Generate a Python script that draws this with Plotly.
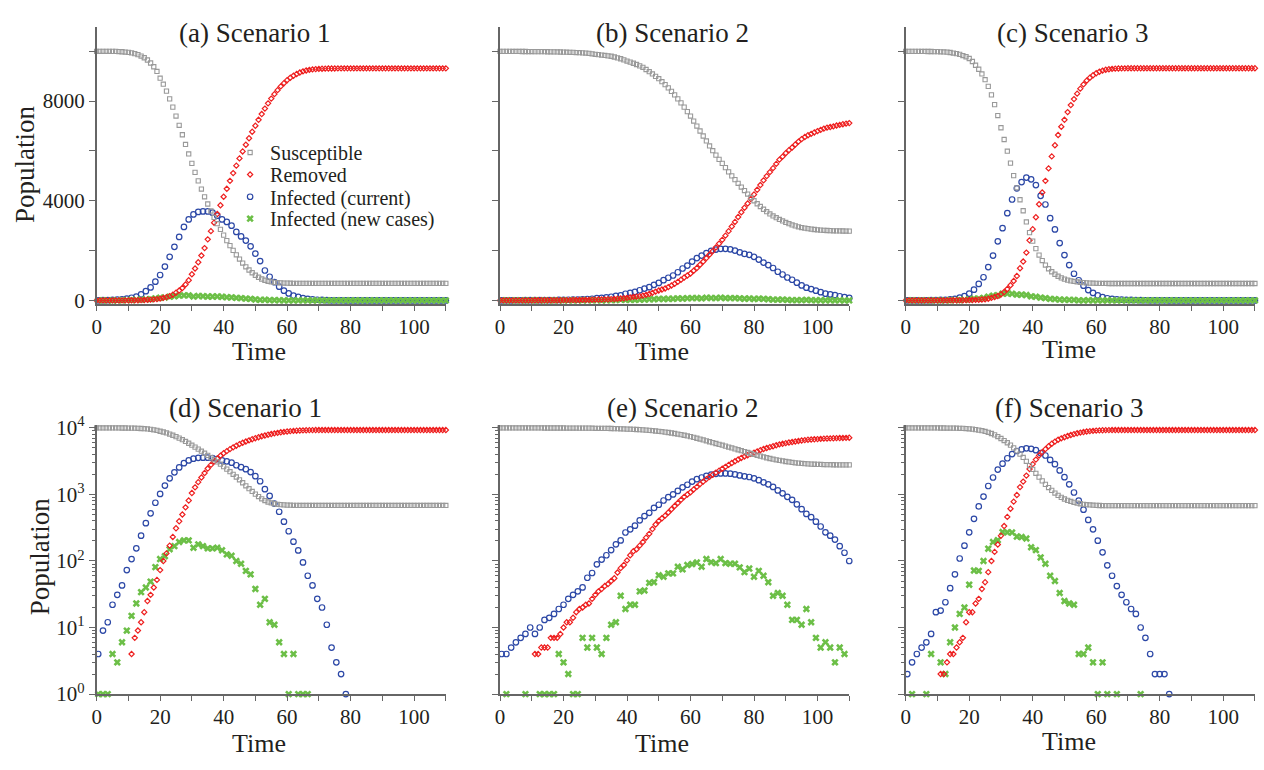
import plotly.graph_objects as go

# ---------------- data ----------------
t_day = list(range(111))                      # Susceptible / Removed sampled every time unit
t_sub = [0.5 + 1.5 * k for k in range(74)]    # Infected series sampled every 1.5 time units

# Scenario 1
S1 = [10000, 10000, 10000, 10000, 10000, 9998, 9995, 9990, 9982, 9970, 9955,
      9935, 9905, 9865, 9810, 9740, 9650, 9530, 9380, 9190, 8920,
      8680, 8400, 8090, 7760, 7400, 7030, 6650, 6260, 5880, 5500,
      5140, 4800, 4470, 4160, 3870, 3590, 3330, 3080, 2850, 2620,
      2400, 2200, 2010, 1830, 1660, 1500, 1350, 1220, 1110, 1010,
      930, 860, 810, 770, 745, 725, 712, 703, 697, 692,
      689, 687, 685] + [684] * 47
R1 = [0] * 11 + [4, 7, 9, 12, 17, 25, 31, 40, 52, 73,
                 100, 130, 170, 230, 310, 395, 500, 640, 810, 1050,
                 1280, 1530, 1800, 2100, 2450, 2780, 3120, 3470, 3820, 4160,
                 4480, 4800, 5110, 5410, 5700, 5980, 6250, 6510, 6770, 7010,
                 7250, 7480, 7700, 7910, 8100, 8280, 8440, 8590, 8720, 8840,
                 8940, 9020, 9090, 9150, 9195, 9230, 9255, 9273, 9285, 9293,
                 9298, 9303, 9307, 9310, 9312, 9314, 9315] + [9316] * 33
I1 = [4, 9, 12, 22, 31, 43, 73, 107, 155, 240,
      370, 520, 750, 1020, 1360, 1750, 2150, 2550, 2950, 3250,
      3450, 3550, 3570, 3570, 3520, 3400, 3250, 3150, 3000, 2750,
      2570, 2400, 2170, 1880, 1580, 1200, 950, 730, 550, 390,
      280, 195, 144, 95, 60, 43, 27, 20, 11, 5,
      3, 2, 1] + [0] * 21
N1 = [1, 1, 1, 4, 3, 6, 9, 15, 23, 34,
      40, 49, 81, 107, 118, 150, 167, 193, 204, 204,
      158, 178, 167, 155, 155, 158, 145, 126, 120, 100,
      91, 71, 63, 38, 22, 27, 12, 11, 6, 4,
      1, 4, 1, 1, 1] + [0] * 29

# Scenario 2
S2 = [9996, 9996, 9995, 9995, 9994, 9994, 9993, 9992, 9991, 9990,
      9989, 9988, 9987, 9985, 9983, 9981, 9979, 9977, 9974, 9971,
      9968, 9964, 9960, 9955, 9950, 9944, 9937, 9929, 9915, 9899,
      9880, 9866, 9850, 9834, 9818, 9800, 9770, 9735, 9700, 9655,
      9608, 9565, 9520, 9470, 9415, 9357, 9270, 9180, 9090, 8995,
      8900, 8780, 8660, 8530, 8390, 8250, 8090, 7930, 7760, 7580,
      7400, 7200, 7000, 6800, 6600, 6400, 6200, 6010, 5830, 5660,
      5500, 5330, 5160, 5000, 4850, 4700, 4550, 4410, 4270, 4130,
      4000, 3880, 3770, 3660, 3560, 3470, 3390, 3320, 3250, 3190,
      3130, 3080, 3030, 2990, 2955, 2925, 2900, 2880, 2862, 2847,
      2834, 2823, 2814, 2806, 2800, 2795, 2791, 2788, 2786, 2784, 2783]
R2 = [0] * 11 + [4, 4, 5, 5, 5, 7, 7, 7, 8, 10,
                 12, 12, 14, 17, 19, 20, 22, 23, 27, 31,
                 35, 38, 42, 45, 50, 55, 67, 78, 87, 102,
                 122, 140, 150, 170, 193, 224, 256, 302, 354, 400,
                 438, 480, 535, 600, 670, 745, 830, 920, 1000, 1080,
                 1190, 1300, 1430, 1560, 1700, 1840, 1980, 2130, 2280, 2430,
                 2600, 2780, 2965, 3150, 3350, 3540, 3720, 3890, 4070, 4250,
                 4440, 4630, 4820, 4990, 5150, 5310, 5480, 5650, 5770, 5910,
                 6030, 6140, 6260, 6375, 6475, 6560, 6630, 6683, 6743, 6796,
                 6847, 6896, 6934, 6960, 6985, 7019, 7045, 7074, 7096, 7117]
I2 = [4, 4, 5, 6, 7, 8, 10, 8, 10, 13,
      14, 16, 19, 22, 27, 31, 35, 40, 56, 66,
      89, 105, 122, 146, 178, 204, 268, 299, 339, 408,
      473, 530, 627, 700, 812, 910, 1000, 1130, 1280, 1400,
      1560, 1700, 1800, 1900, 1990, 2040, 2070, 2070, 2050, 2000,
      1930, 1870, 1830, 1750, 1640, 1520, 1420, 1300, 1150, 1040,
      920, 830, 710, 600, 510, 455, 390, 330, 270, 240,
      210, 167, 133, 100]
N2 = [0, 1, 0, 0, 0, 1, 0, 0, 1, 1,
      1, 1, 4, 3, 2, 1, 1, 7, 5, 7,
      5, 4, 7, 11, 12, 30, 19, 22, 22, 35,
      36, 47, 48, 61, 58, 65, 65, 82, 75, 87,
      90, 95, 82, 107, 96, 93, 107, 93, 91, 91,
      80, 68, 77, 58, 71, 60, 48, 30, 33, 30,
      22, 13, 13, 11, 19, 12, 7, 5, 6, 5,
      3, 5, 4, 0]

# Scenario 3
S3 = [9998, 9997, 9997, 9996, 9995, 9994, 9993, 9992, 9991, 9988, 9985,
      9980, 9974, 9965, 9952, 9930, 9905, 9875, 9830, 9780, 9710,
      9590, 9440, 9280, 9090, 8860, 8590, 8250, 7860, 7420, 6930,
      6460, 5990, 5510, 5010, 4520, 4040, 3600, 3150, 2720, 2380,
      2080, 1820, 1600, 1420, 1270, 1150, 1050, 970, 905, 855,
      815, 785, 760, 740, 725, 712, 702, 695, 690, 686,
      683, 681, 680] + [679] * 47
R3 = [0] * 11 + [2, 2, 3, 4, 4, 5, 6, 7, 12, 17,
                 17, 23, 27, 38, 48, 68, 100, 137, 177, 240,
                 335, 460, 610, 780, 980, 1290, 1560, 1920, 2410, 2860,
                 3340, 3860, 4330, 4800, 5300, 5780, 6230, 6640, 6970, 7250,
                 7560, 7840, 8080, 8300, 8500, 8670, 8820, 8940, 9040, 9120,
                 9180, 9225, 9260, 9280, 9295, 9303, 9309, 9313, 9316, 9318] + [9320] * 40
I3 = [2, 3, 4, 5, 6, 8, 17, 18, 24, 39,
      63, 109, 170, 270, 430, 660, 930, 1340, 1800, 2370,
      2900, 3500, 4050, 4500, 4750, 4930, 4860, 4630, 4200, 3850,
      3300, 2850, 2300, 1820, 1420, 1070, 810, 590, 414, 299,
      202, 135, 86, 60, 42, 31, 24, 19, 16, 10,
      7, 4, 2, 2, 2, 1] + [0] * 18
N3 = [0, 1, 0, 0, 1, 4, 0, 3, 2, 6,
      10, 16, 20, 44, 72, 71, 100, 153, 193, 206,
      273, 270, 268, 233, 229, 218, 161, 146, 113, 91,
      60, 50, 33, 25, 23, 22, 4, 4, 5, 3,
      1, 3, 1, 0, 1, 0, 0, 0, 0, 1] + [0] * 24

scenarios = [(S1, R1, I1, N1), (S2, R2, I2, N2), (S3, R3, I3, N3)]
series_names = ["Susceptible", "Removed", "Infected (current)", "Infected (new cases)"]
top_titles = ["(a) Scenario 1", "(b) Scenario 2", "(c) Scenario 3"]
bot_titles = ["(d) Scenario 1", "(e) Scenario 2", "(f) Scenario 3"]
x_ticks = [0, 20, 40, 60, 80, 100]
lin_ticks = [0, 4000, 8000]
log_ticks = [1, 10, 100, 1000, 10000]
log_ticktext = ["10<sup>0</sup>", "10<sup>1</sup>", "10<sup>2</sup>", "10<sup>3</sup>", "10<sup>4</sup>"]

# ---------------- styling ----------------
W, H = 1264, 770
FONT = "Liberation Serif"
TXT = "#231f20"
AX = "#666666"
styles = [
    dict(symbol="square-open", size=4.2, color="#999999", line=dict(width=1.1, color="#999999")),
    dict(symbol="diamond-open", size=4.0, color="#ee1f1f", line=dict(width=1.2, color="#ee1f1f")),
    dict(symbol="circle-open", size=5.5, color="#2b47a6", line=dict(width=1.2, color="#2b47a6")),
    dict(symbol="x", size=6.5, color="#6cbf47", line=dict(width=0)),
]
draw_order = [2, 3, 1, 0]

def fx(px):
    return px / W

def fy(py):
    return 1 - py / H

col_px = [(92.0, 442.6), (497.0, 847.6), (904.3, 1254.9)]
top_px = (15.0, 301.7)
bot_px = (426.7, 704.0)

fig = go.Figure()
layout = dict(width=W, height=H, margin=dict(l=0, r=0, t=0, b=0),
              paper_bgcolor="white", plot_bgcolor="white",
              font=dict(family=FONT, color=TXT, size=21))

minor_x = [10, 30, 50, 70, 90, 110]
minor_log = [m * d for d in (1, 10, 100, 1000) for m in range(2, 10)]

for row in range(2):
    for col in range(3):
        idx = row * 3 + col + 1
        xname = "xaxis" if idx == 1 else f"xaxis{idx}"
        yname = "yaxis" if idx == 1 else f"yaxis{idx}"
        xref = "x" if idx == 1 else f"x{idx}"
        yref = "y" if idx == 1 else f"y{idx}"
        x0, x1 = col_px[col]
        ytop, ybot = (top_px if row == 0 else bot_px)
        layout[xname] = dict(domain=[fx(x0), fx(x1)], range=[0, 110], anchor=yref,
                             showline=True, linecolor=AX, linewidth=1.5,
                             ticks="outside", ticklen=5, tickwidth=1.3, tickcolor=AX,
                             tickvals=x_ticks, showgrid=False, zeroline=False,
                             ticklabelstandoff=-2,
                             tickfont=dict(size=21, family=FONT, color=TXT),
                             minor=dict(tickvals=minor_x, ticks="outside", ticklen=5,
                                        tickwidth=1.3, tickcolor=AX, showgrid=False))
        ydict = dict(domain=[fy(ybot), fy(ytop)], anchor=xref,
                     showline=True, linecolor=AX, linewidth=1.5,
                     ticks="outside", ticklen=6, tickwidth=1.3, tickcolor=AX,
                     showgrid=False, zeroline=False,
                     showticklabels=(col == 0),
                     tickfont=dict(size=21, family=FONT, color=TXT))
        if row == 0:
            ydict.update(range=[-156, 10994], tickvals=lin_ticks,
                         minor=dict(tickvals=[2000, 6000, 10000], ticks="outside", ticklen=6,
                                    tickwidth=1.3, tickcolor=AX, showgrid=False))
        else:
            ydict.update(type="log", range=[0, 4.038], tickvals=log_ticks, ticktext=log_ticktext,
                         minor=dict(tickvals=minor_log, ticks="outside", ticklen=3,
                                    tickwidth=1.0, tickcolor=AX, showgrid=False))
        layout[yname] = ydict

        data = scenarios[col]
        for s in draw_order:
            vals = data[s]
            xs = t_day if s in (0, 1) else t_sub
            if row == 1:
                vals = [v if v > 0 else None for v in vals]
            show = (row == 0 and col == 0)
            leg = "legend" if s == 0 else f"legend{s + 1}"
            fig.add_trace(go.Scatter(
                x=xs, y=vals, mode="markers", name=series_names[s],
                marker=styles[s], xaxis=xref, yaxis=yref,
                showlegend=show, legend=leg, cliponaxis=False))

# four single-entry legends stacked like the reference
leg_rows = [145.0, 167.7, 190.7, 213.3]
for i, ypx in enumerate(leg_rows):
    key = "legend" if i == 0 else f"legend{i + 1}"
    layout[key] = dict(x=fx(226), y=fy(ypx), xanchor="left", yanchor="middle",
                       bgcolor="rgba(0,0,0,0)", borderwidth=0,
                       font=dict(size=20, family=FONT, color=TXT), itemwidth=30)

ann = []
title_pos_top = [(250, 22), (670, 22), (1072, 22)]
title_pos_bot = [(241, 409), (680, 409), (1068, 409)]
time_top = [(255, 350), (660, 350), (1068, 348)]
time_bot = [(255, 755), (660, 755), (1068, 753)]
for c in range(3):
    for (txt, pos) in [(top_titles[c], title_pos_top[c]), (bot_titles[c], title_pos_bot[c])]:
        ann.append(dict(text=txt, x=fx(pos[0]), y=fy(pos[1]), xref="paper", yref="paper",
                        xanchor="center", yanchor="middle", showarrow=False,
                        font=dict(size=27, family=FONT, color=TXT)))
    for pos in (time_top[c], time_bot[c]):
        ann.append(dict(text="Time", x=fx(pos[0]), y=fy(pos[1]), xref="paper", yref="paper",
                        xanchor="center", yanchor="middle", showarrow=False,
                        font=dict(size=26, family=FONT, color=TXT)))
for pos in [(20, 157), (36, 562)]:
    ann.append(dict(text="Population", x=fx(pos[0]), y=fy(pos[1]), xref="paper", yref="paper",
                    xanchor="center", yanchor="middle", showarrow=False, textangle=-90,
                    font=dict(size=27, family=FONT, color=TXT)))
layout["annotations"] = ann

fig.update_layout(**layout)
fig.write_html("out.html")
